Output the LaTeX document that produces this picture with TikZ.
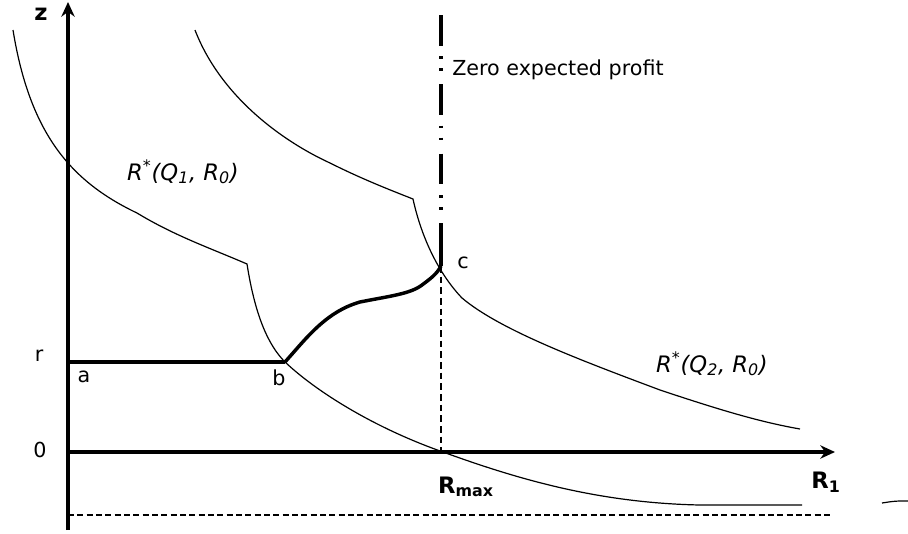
\documentclass[tikz,border=0pt]{standalone}
\usepackage{fontspec}
\setmainfont{DejaVu Sans}
\usetikzlibrary{arrows.meta}

\begin{document}
\begin{tikzpicture}[x=0.75pt,y=-0.75pt,
  axis/.style={line width=3pt,-{Stealth[length=11pt,width=10pt]}},
  curve/.style={line width=0.9pt},
  bold/.style={line width=2.6pt},
  lbl/.style={font=\fontsize{15.5}{18}\selectfont,inner sep=0pt},
  blbl/.style={font=\fontsize{17}{20}\selectfont\bfseries,inner sep=0pt},
  ilbl/.style={font=\fontsize{17}{20}\selectfont\itshape,inner sep=0pt}]
  \useasboundingbox (0,0) rectangle (908,533);
  % axes
  \coordinate (ybot) at (68,530);
  \coordinate (ytop) at (68,2);
  \coordinate (o) at (68,452);
  \coordinate (xend) at (835,452);
  \draw[axis] (ybot) -- (ytop);
  \draw[axis] (o) -- (xend);
  \node[blbl] (z) at (41,14) {z};
  \node[lbl] (zero) at (40,450) {0};
  \node[lbl] (r) at (39,356) {r};
  \node[blbl] (r1) at (826,482) {R\textsubscript{1}};
  % points
  \coordinate (a) at (68,362);
  \coordinate (b) at (285,362);
  \coordinate (c) at (441,266);
  \coordinate (rmax) at (441,452);
  \coordinate (zp) at (441,15);
  \coordinate (zq) at (441,230);
  \node[lbl] (la) at (84,377) {a};
  \node[lbl] (lb) at (279,378) {b};
  \node[lbl] (lc) at (463,263) {c};
  \node[blbl] (lrmax) at (466,487) {R\textsubscript{max}};
  % reaction curves
  \draw[curve] (13,30) .. controls (30,135) and (72,182) .. (137,213)
    .. controls (175,236) and (210,248) .. (247,264)
    .. controls (255,315) and (268,345) .. (b)
    .. controls (320,395) and (380,430) .. (443,452)
    .. controls (520,480) and (600,503) .. (700,505) -- (802,505);
  \draw[curve] (195,30) .. controls (220,95) and (280,140) .. (330,163)
    .. controls (360,178) and (385,188) .. (413,199)
    .. controls (422,240) and (440,275) .. (462,298)
    .. controls (500,330) and (580,360) .. (660,390)
    .. controls (720,410) and (760,422) .. (800,429);
  \node[ilbl] (q1) at (183,172) {R\textsuperscript{*}(Q\textsubscript{1}, R\textsubscript{0})};
  \node[ilbl] (q2) at (712,364) {R\textsuperscript{*}(Q\textsubscript{2}, R\textsubscript{0})};
  % path a-b-c
  \draw[bold] (a) -- (b);
  \draw[bold] (b) .. controls (305,340) and (325,312) .. (360,302)
    .. controls (390,296) and (410,294) .. (422,285)
    .. controls (430,279) and (437,274) .. (c);
  % zero expected profit
  \draw[line width=3pt,dash pattern=on 23pt off 8pt on 2pt off 7pt on 2pt off 10pt] (zp) -- (zq);
  \draw[line width=3pt] (zq) -- (c);
  \node[lbl,anchor=west] (zlbl) at (452,70) {Zero expected profit};
  \draw[line width=1.3pt,dash pattern=on 5pt off 3pt] (c) -- (rmax);
  % lower bound
  \coordinate (lo) at (68,515);
  \coordinate (hi) at (830,515);
  \draw[line width=1.5pt,dash pattern=on 4.5pt off 2.5pt] (lo) -- (hi);
  \draw[curve] (882,503) .. controls (895,501) .. (908,501);
\end{tikzpicture}
\end{document}
